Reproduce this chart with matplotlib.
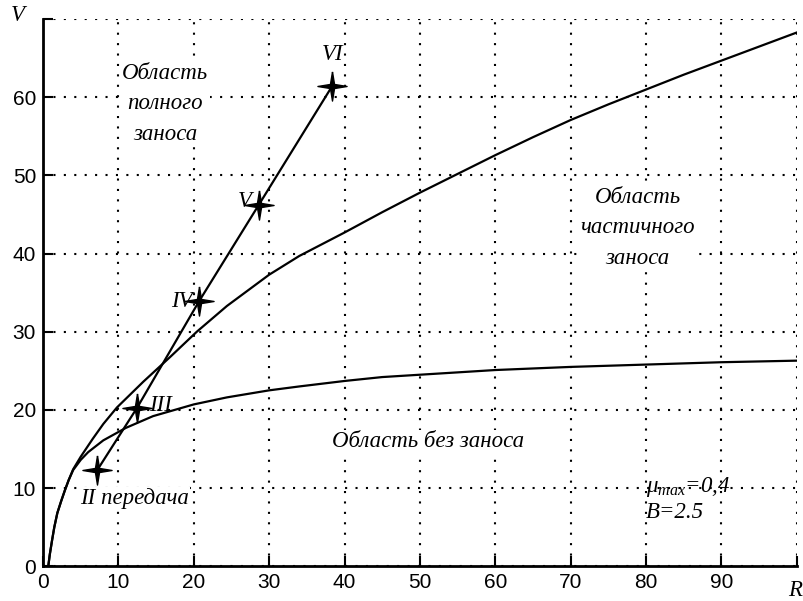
import matplotlib
matplotlib.use("Agg")
import matplotlib.pyplot as plt

plt.rcParams["mathtext.fontset"] = "custom"
plt.rcParams["mathtext.it"] = "Liberation Serif:italic"
plt.rcParams["mathtext.rm"] = "Liberation Serif"

# граница частичного заноса
r_upper = [0.7, 0.9, 1.2, 1.5, 1.9, 2.4, 2.9, 3.4, 4, 5, 6.6, 8, 9.8, 13.3, 16.9, 20.4, 24.4,
           30, 34, 40, 45, 50, 55, 60, 65, 70, 75, 80, 85, 90, 95, 100]
v_upper = [0, 1.5, 3.3, 5, 6.8, 8.3, 9.7, 11, 12.4, 14.0, 16.3, 18.2, 20.3, 23.6, 26.8, 30.0, 33.3,
           37.3, 39.7, 42.7, 45.3, 47.8, 50.2, 52.6, 54.9, 57.1, 59.1, 61.0, 62.9, 64.7, 66.5, 68.3]

# граница без заноса
r_lower = [0.7, 0.9, 1.2, 1.5, 1.9, 2.4, 2.9, 3.4, 4, 5, 6, 8, 11, 14.6, 20, 24.4,
           30, 34, 40, 45, 50, 55, 60, 70, 80, 90, 100]
v_lower = [0, 1.5, 3.3, 5, 6.8, 8.3, 9.7, 11, 12.3, 13.6, 14.6, 16.1, 17.7, 19.2, 20.7, 21.6,
           22.5, 23.0, 23.7, 24.2, 24.5, 24.8, 25.1, 25.5, 25.8, 26.1, 26.3]

# передачи
gear_r = [7.2, 12.5, 20.7, 28.6, 38.4]
gear_v = [12.3, 20.3, 33.9, 46.2, 61.5]
gear_names = ["II передача", "III", "IV", "V", "VI"]

xticks = [0, 10, 20, 30, 40, 50, 60, 70, 80, 90, 100]
yticks = [0, 10, 20, 30, 40, 50, 60, 70]

star = [(0, 1), (0.14, 0.14), (1, 0), (0.14, -0.14), (0, -1),
        (-0.14, -0.14), (-1, 0), (-0.14, 0.14), (0, 1)]

serif = "Liberation Serif"

fig = plt.figure(figsize=(8.04, 6.01), dpi=100)
ax = fig.add_axes([0.0535, 0.058, 0.9375, 0.91])

ax.plot(r_upper, v_upper, color="black", lw=1.6)
ax.plot(r_lower, v_lower, color="black", lw=1.6)
ax.plot(gear_r, gear_v, color="black", lw=1.6, marker=star, markersize=21,
        markerfacecolor="black", markeredgecolor="black")

ax.set_xlim(0, 100)
ax.set_ylim(0, 70)
ax.set_xticks(xticks)
ax.set_yticks(yticks)
ax.set_xticklabels([str(t) for t in xticks[:-1]] + [""])
ax.set_yticklabels([str(t) for t in yticks[:-1]] + [""])
ax.tick_params(direction="in", length=7, width=1.5, labelsize=15, pad=5)
for lab in ax.get_xticklabels() + ax.get_yticklabels():
    lab.set_family("Liberation Sans")

ax.spines["top"].set_visible(False)
ax.spines["right"].set_visible(False)
ax.spines["left"].set_linewidth(2)
ax.spines["bottom"].set_linewidth(2)
ax.grid(True, color="black", linestyle=(0, (1, 4)), linewidth=1.5)
ax.set_axisbelow(True)

box = dict(facecolor="white", edgecolor="none", pad=1)
txt = dict(family=serif, style="italic", fontsize=16.5, ha="center", va="center", bbox=box)
lbl = dict(family=serif, style="italic", fontsize=16.5, va="center")

ax.text(16.2, 59.2, "Область\nполного\nзаноса", linespacing=1.6, **txt)
ax.text(78.9, 43.3, "Область\nчастичного\nзаноса", linespacing=1.6, **txt)
ax.text(51.1, 15.9, "Область без заноса", **txt)

ax.text(gear_r[0] + 4.9, 8.6, gear_names[0], **txt)
ax.text(gear_r[1] + 1.6, gear_v[1] + 0.3, gear_names[1], ha="left", **lbl)
ax.text(gear_r[2] - 0.9, gear_v[2], gear_names[2], ha="right", **lbl)
ax.text(gear_r[3] - 0.9, gear_v[3] + 0.5, gear_names[3], ha="right", **lbl)
ax.text(gear_r[4], gear_v[4] + 4.0, gear_names[4], ha="center", **lbl)

ax.text(80, 10.1, r"$\mu_{max}$=0,4", ha="left", **lbl)
ax.text(80, 6.9, "B=2.5", ha="left", **lbl)

fig.text(0.022, 0.975, "V", family=serif, style="italic", fontsize=16.5, ha="center", va="center")
fig.text(0.998, 0.018, "R", family=serif, style="italic", fontsize=16.5, ha="right", va="center")

fig.savefig("out.png", dpi=100)
